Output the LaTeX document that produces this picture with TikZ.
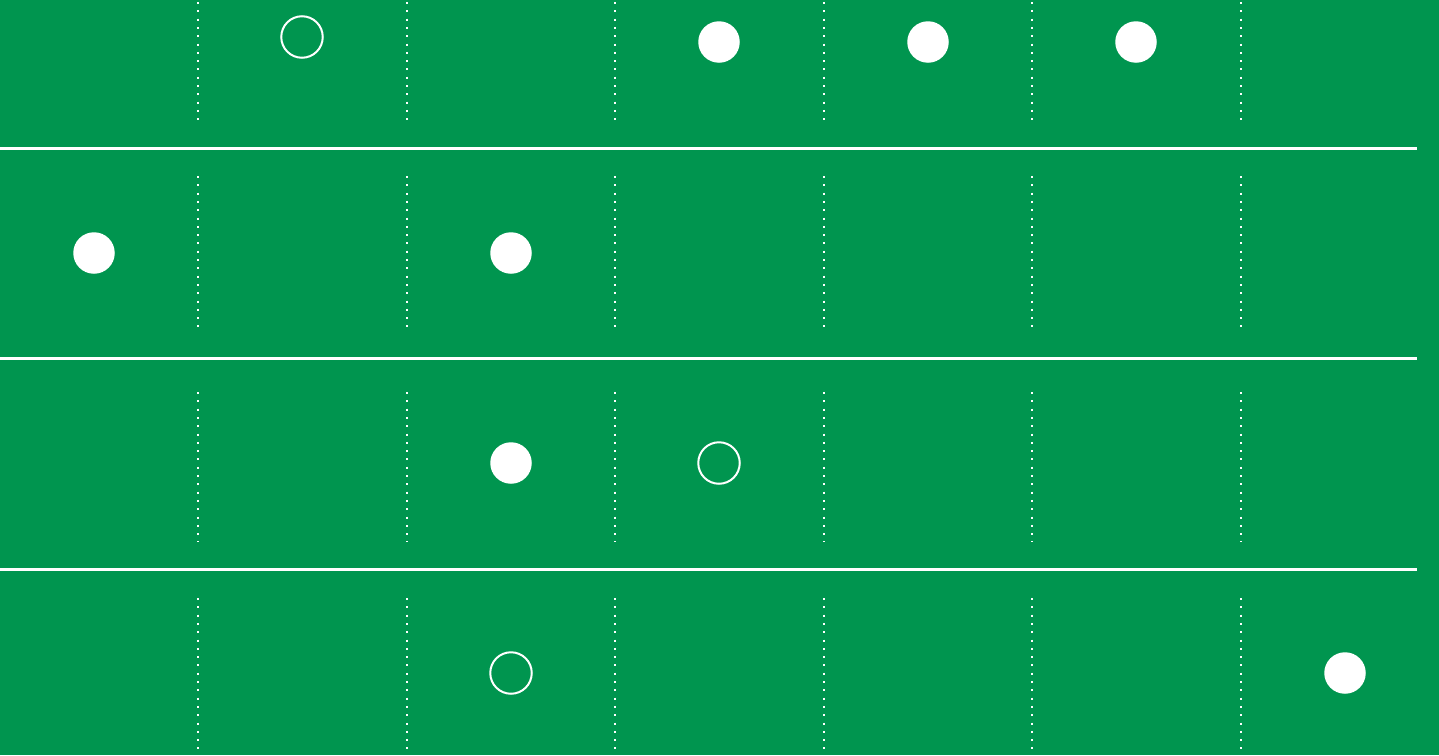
\documentclass[tikz,border=0pt]{standalone}
\definecolor{field}{RGB}{0,149,79}
\begin{document}
\begin{tikzpicture}[x=1pt,y=-1pt,
  sep/.style={white,line width=3pt},
  dotline/.style={white,line width=2pt,dash pattern=on 2pt off 6.3pt},
  full/.style={circle,fill=white,minimum size=41.5pt,inner sep=0pt},
  hollow/.style={circle,draw=white,line width=2pt,minimum size=41.5pt,inner sep=0pt}]
\fill[field] (0,0) rectangle (1439,755);
\useasboundingbox (0,0) rectangle (1439,755);
% horizontal separators
\foreach \y in {148,358,569} \draw[sep] (0,\y) -- (1417,\y);
% dotted vertical lines
\foreach \x in {198,406.5,615,823.5,1032,1241}{
  \draw[dotline] (\x,2) -- (\x,121);
  \draw[dotline] (\x,176) -- (\x,328);
  \draw[dotline] (\x,392) -- (\x,542);
  \draw[dotline] (\x,598) -- (\x,751);
}
% row 1
\node[hollow] (a1) at (302,37) {};
\node[full] (a2) at (719,42) {};
\node[full] (a3) at (928,42) {};
\node[full] (a4) at (1136,42) {};
% row 2
\node[full] (b1) at (94,253) {};
\node[full] (b2) at (511,253) {};
% row 3
\node[full] (c1) at (511,463) {};
\node[hollow] (c2) at (719,463) {};
% row 4
\node[hollow] (d1) at (511,673) {};
\node[full] (d2) at (1345,673) {};
\end{tikzpicture}
\end{document}
